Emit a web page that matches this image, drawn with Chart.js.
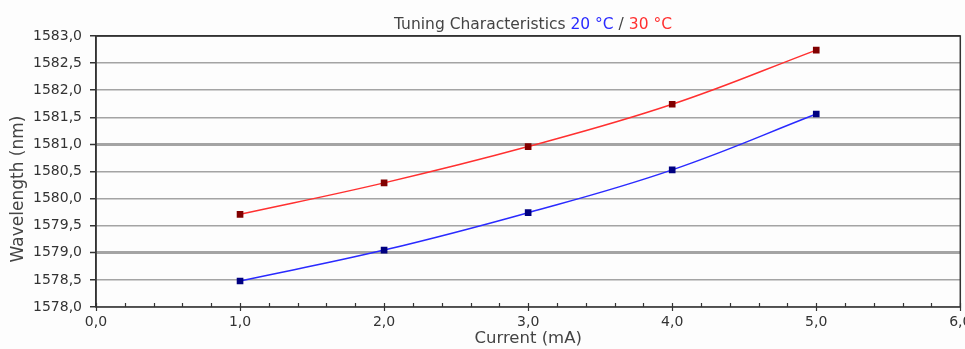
<!DOCTYPE html>
<html>
<head>
<meta charset="utf-8">
<script src="https://cdn.jsdelivr.net/npm/chart.js@4"></script>
<style>
  html, body { margin: 0; padding: 0; background: #fdfdfd; }
  #wrap { width: 965px; height: 349px; position: relative; }
</style>
</head>
<body>
<div id="wrap"><canvas id="tuning"></canvas></div>
<script>
const currentMA = [1, 2, 3, 4, 5];
const wavelength20 = [1578.48, 1579.05, 1579.74, 1580.53, 1581.56];
const wavelength30 = [1579.71, 1580.29, 1580.96, 1581.74, 1582.74];
const titleParts = [
    { text: 'Tuning Characteristics ', color: '#444' },
    { text: '20 °C', color: '#2a2aff' },
    { text: ' / ', color: '#444' },
    { text: '30 °C', color: '#ff3030' }
];
const yTitle = 'Wavelength (nm)';
const xTitle = 'Current (mA)';
const yMin = 1578, yMax = 1583, yStep = 0.5;
const xMin = 0, xMax = 6, xMinorStep = 0.2;

const FONT = '"DejaVu Sans", Verdana, sans-serif';
const comma = v => v.toFixed(1).replace('.', ',');
const isMajor = v => Math.abs(v - Math.round(v)) < 1e-6;

document.addEventListener('DOMContentLoaded', () => {
    const ctx = document.getElementById('tuning').getContext('2d');

    // multi-coloured chart title + rotated y title
    const titlePlugin = {
        id: 'colorTitle',
        afterDraw(chart) {
            const c = chart.ctx;
            const area = chart.chartArea;
            c.save();
            c.font = '15.5px ' + FONT;
            c.textBaseline = 'alphabetic';
            const total = titleParts.reduce((s, p) => s + c.measureText(p.text).width, 0);
            let x = 533 - total / 2;
            titleParts.forEach(p => {
                c.fillStyle = p.color;
                c.fillText(p.text, x, 29);
                x += c.measureText(p.text).width;
            });

            c.translate(19, 189);
            c.rotate(-Math.PI / 2);
            c.font = '17px ' + FONT;
            c.fillStyle = '#444';
            c.textAlign = 'center';
            c.textBaseline = 'middle';
            c.fillText(yTitle, 0, 0);
            c.restore();
        }
    };

    // plot frame + inward minor ticks on the x axis
    const framePlugin = {
        id: 'frame',
        beforeDatasetsDraw(chart) {
            const c = chart.ctx;
            const a = chart.chartArea;
            const xs = chart.scales.x;
            c.save();
            c.strokeStyle = '#333';
            c.lineWidth = 1.5;
            c.strokeRect(a.left, a.top, a.right - a.left, a.bottom - a.top);
            c.lineWidth = 1.2;
            xs.ticks.forEach(t => {
                const px = Math.round(xs.getPixelForValue(t.value)) + 0.5;
                const major = isMajor(t.value);
                c.beginPath();
                c.moveTo(px, a.bottom - 4);
                c.lineTo(px, a.bottom + (major ? 4 : 0));
                c.stroke();
            });
            c.restore();
        }
    };

    new Chart(ctx, {
        type: 'line',
        data: {
            datasets: [{
                label: '20 °C',
                data: currentMA.map((x, i) => ({ x: x, y: wavelength20[i] })),
                borderColor: '#2a2aff',
                borderWidth: 1.5,
                pointStyle: 'rect',
                pointRadius: 4.7,
                pointBackgroundColor: '#000080',
                pointBorderWidth: 0,
                tension: 0.4,
                fill: false
            }, {
                label: '30 °C',
                data: currentMA.map((x, i) => ({ x: x, y: wavelength30[i] })),
                borderColor: '#ff3030',
                borderWidth: 1.5,
                pointStyle: 'rect',
                pointRadius: 4.7,
                pointBackgroundColor: '#800000',
                pointBorderWidth: 0,
                tension: 0.4,
                fill: false
            }]
        },
        options: {
            responsive: true,
            maintainAspectRatio: false,
            animation: false,
            layout: { padding: { top: 36, right: 4, left: 0, bottom: 0 } },
            plugins: {
                legend: { display: false },
                tooltip: { enabled: false }
            },
            scales: {
                x: {
                    type: 'linear',
                    min: xMin,
                    max: xMax,
                    grid: { display: false, drawTicks: false },
                    border: { display: false },
                    ticks: {
                        stepSize: xMinorStep,
                        autoSkip: false,
                        maxRotation: 0,
                        padding: 7,
                        color: '#333',
                        font: { family: FONT, size: 14 },
                        callback: v => isMajor(v) ? comma(v) : ''
                    },
                    title: {
                        display: true,
                        text: xTitle,
                        color: '#444',
                        font: { family: FONT, size: 16.5 },
                        padding: { top: 0, bottom: 0 }
                    },
                    afterFit: s => { s.height = 42; s.paddingLeft = 0; s.paddingRight = 0; }
                },
                y: {
                    min: yMin,
                    max: yMax,
                    grid: {
                        color: ctx => ctx.tick && ctx.tick.value === yMax ? '#333' : '#a4a4a4',
                        lineWidth: ctx => ctx.tick && (ctx.tick.value === 1579 || ctx.tick.value === 1581) ? 3 : 1.5,
                        tickColor: '#333',
                        tickLength: 6,
                        tickWidth: 1.5
                    },
                    border: { color: '#333', width: 1.5 },
                    ticks: {
                        stepSize: yStep,
                        padding: 8,
                        color: '#333',
                        font: { family: FONT, size: 14 },
                        callback: v => comma(v)
                    },
                    afterFit: s => { s.width = 96; s.paddingTop = 0; s.paddingBottom = 0; }
                }
            }
        },
        plugins: [titlePlugin, framePlugin]
    });
});
</script>
</body>
</html>
